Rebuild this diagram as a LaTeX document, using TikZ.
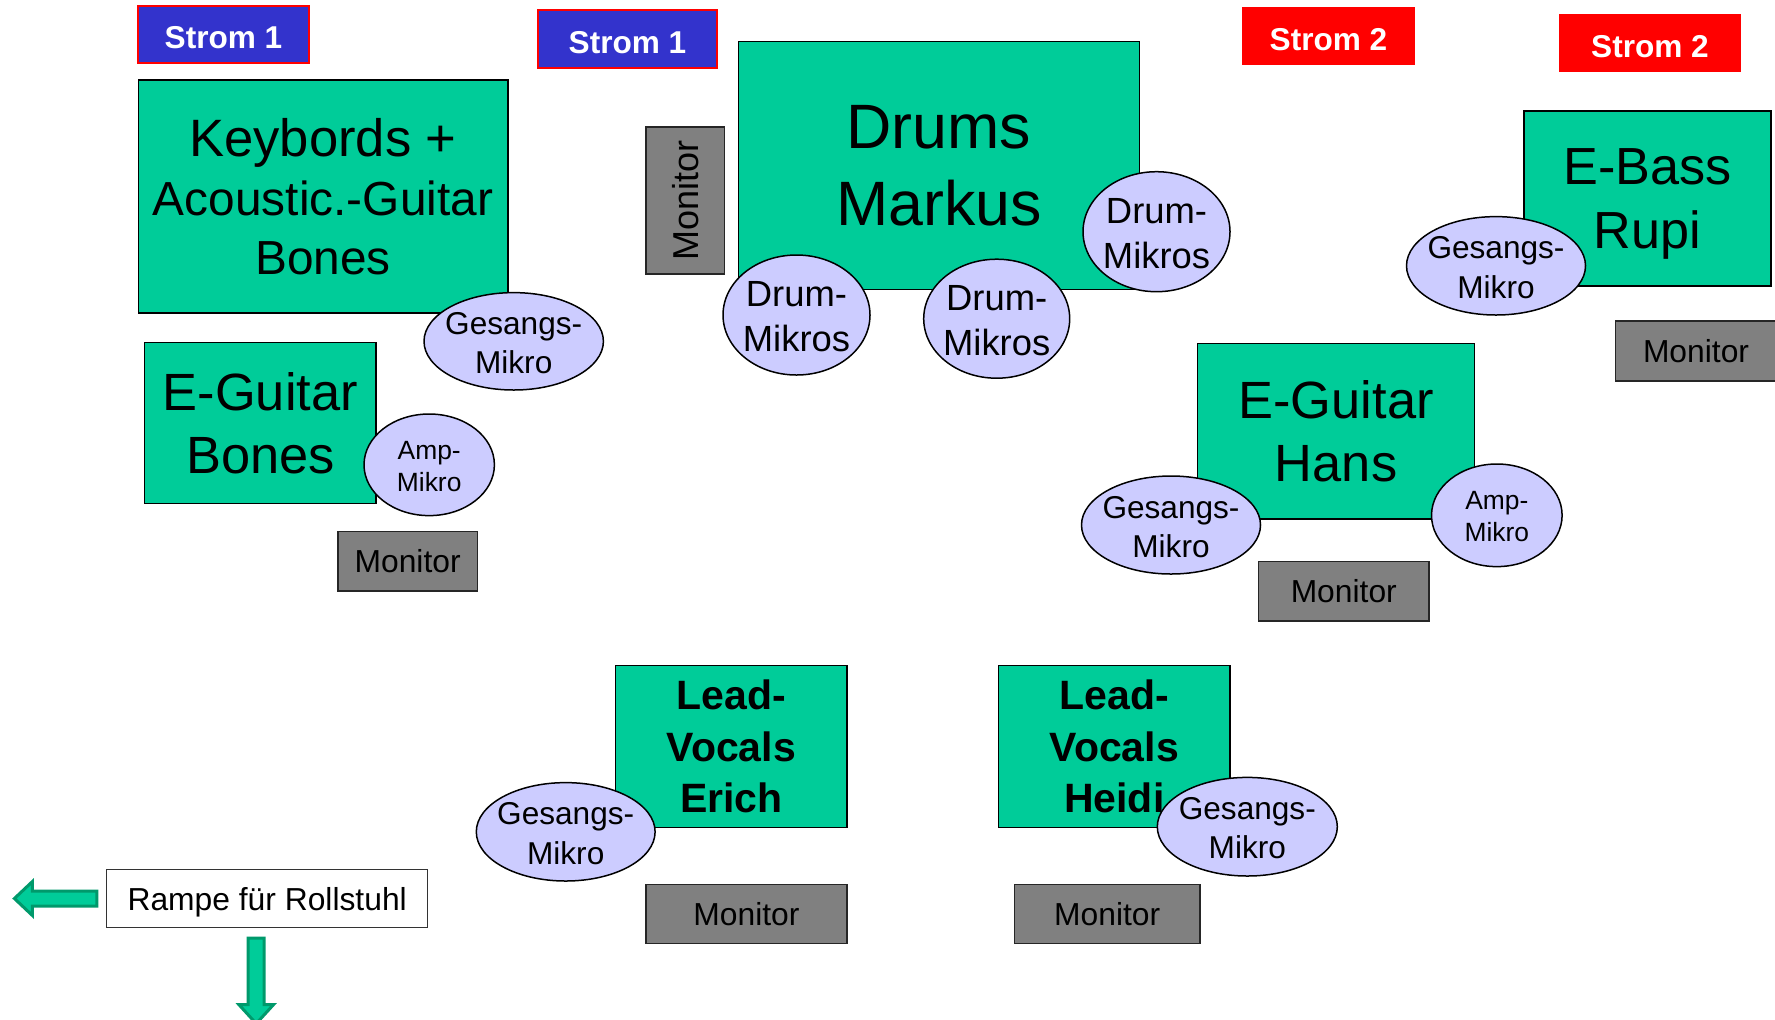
\documentclass[tikz,border=0pt]{standalone}
\usepackage{fontspec}
\setmainfont{Liberation Sans}
\usetikzlibrary{shapes}
\definecolor{buehne}{HTML}{00CC99}
\definecolor{mikrofarbe}{HTML}{CCCCFF}
\definecolor{grau}{HTML}{808080}
\definecolor{blau}{HTML}{3333CC}
\definecolor{pfeilrand}{HTML}{00996B}
\newcommand{\zweizeilig}[2]{\makebox[0pt]{\raisebox{-0.38em}[0pt][0pt]{\begin{tabular}{@{}c@{}}#1\\#2\end{tabular}}}}

\begin{document}
\begin{tikzpicture}[x=0.5pt,y=-0.5pt]
        \tikzstyle{band}=[rectangle,draw=black,line width=0.75pt,fill=buehne,inner sep=0pt,align=center]
        \tikzstyle{mikro}=[ellipse,draw=black,line width=0.75pt,fill=mikrofarbe,inner sep=0pt,font=\fontsize{15.8}{19.6}\selectfont]
        \tikzstyle{monbox}=[rectangle,draw=black!85,line width=0.75pt,fill=grau,inner sep=0pt,font=\fontsize{15.9}{19}\selectfont]
        \tikzstyle{strom}=[rectangle,inner sep=0pt,text=white,text height=14pt,text depth=0pt,font=\fontsize{15.8}{19}\selectfont\bfseries]
        \tikzstyle{stromeins}=[strom,fill=blau,draw=red,line width=1.2pt]
        \tikzstyle{stromzwei}=[strom,fill=red]
        \tikzstyle{pfeil}=[fill=buehne,draw=pfeilrand,line width=1.5pt,line join=miter]
        \useasboundingbox (0,0) rectangle (1775,1019);
        % Strom
        \node[stromeins,minimum width=85.5pt,minimum height=28.5pt] (strom1a) at (223.5,34.5) {Strom 1};
        \node[stromeins,minimum width=89.5pt,minimum height=29pt] (strom1b) at (627.5,39) {Strom 1};
        \node[stromzwei,minimum width=86.5pt,minimum height=29pt] (strom2a) at (1328.5,36) {Strom 2};
        \node[stromzwei,minimum width=91pt,minimum height=29pt] (strom2b) at (1650,43) {Strom 2};
        % Musiker
        \node[band,minimum width=184.75pt,minimum height=116.5pt,font=\fontsize{23.9}{29.5}\selectfont] (keys) at (323,196.5) {{\fontsize{26.3}{29.5}\selectfont Keybords +}\\Acoustic.-Guitar\\Bones};
        \node[band,minimum width=200.5pt,minimum height=124pt,font=\fontsize{31.35}{38.3}\selectfont] (drums) at (939,165.5) {Drums\\Markus};
        \node[band,minimum width=123.5pt,minimum height=87.5pt,font=\fontsize{26.1}{32.4}\selectfont,text depth=0pt] (bass) at (1647.5,198.5) {E-Bass\\Rupi};
        \node[band,minimum width=115.65pt,minimum height=80.3pt,font=\fontsize{26.2}{31.4}\selectfont] (gitbones) at (260.35,423) {E-Guitar\\Bones};
        \node[band,minimum width=138.4pt,minimum height=87.85pt,font=\fontsize{26.2}{31.6}\selectfont] (githans) at (1336.1,431.15) {E-Guitar\\Hans};
        \node[band,minimum width=115.7pt,minimum height=80.8pt,font=\fontsize{20.5}{25.85}\selectfont\bfseries] (erich) at (731.4,746.5) {Lead-\\Vocals\\Erich};
        \node[band,minimum width=115.7pt,minimum height=80.8pt,font=\fontsize{20.5}{25.85}\selectfont\bfseries] (heidi) at (1114.3,746.5) {Lead-\\Vocals\\Heidi};
        % Monitore
        \node[monbox,rotate=90,minimum width=73.5pt,minimum height=39.2pt,font=\fontsize{18}{21}\selectfont] (mondrums) at (685.2,200.5) {Monitor};
        \node[monbox,minimum width=69.65pt,minimum height=29.65pt] (monbones) at (407.65,561.35) {Monitor};
        \node[monbox,minimum width=80.5pt,minimum height=29.8pt] (monbass) at (1696,351) {Monitor};
        \node[monbox,minimum width=85.25pt,minimum height=29.65pt] (monhans) at (1343.75,591.35) {Monitor};
        \node[monbox,minimum width=100.5pt,minimum height=29.5pt] (monerich) at (746.5,913.8) {Monitor};
        \node[monbox,minimum width=92.8pt,minimum height=29.5pt] (monheidi) at (1107.2,913.8) {Monitor};
        % Mikros
        \node[mikro,minimum width=89.7pt,minimum height=48.7pt] (gesbones) at (513.7,341.3) {\zweizeilig{Gesangs-}{Mikro}};
        \node[mikro,minimum width=65.2pt,minimum height=50.8pt,font=\fontsize{13.2}{15.85}\selectfont] (ampbones) at (429.2,464.8) {\zweizeilig{Amp-}{Mikro}};
        \node[mikro,minimum width=73.5pt,minimum height=60pt,font=\fontsize{18.2}{22.5}\selectfont] (drumlinks) at (796.5,315) {\zweizeilig{Drum-}{Mikros}};
        \node[mikro,minimum width=73pt,minimum height=59.5pt,font=\fontsize{18.2}{22.5}\selectfont] (drummitte) at (996.7,318.7) {\zweizeilig{Drum-}{Mikros}};
        \node[mikro,minimum width=73.5pt,minimum height=60pt,font=\fontsize{18.2}{22.5}\selectfont] (drumrechts) at (1156.5,231.7) {\zweizeilig{Drum-}{Mikros}};
        \node[mikro,minimum width=89.5pt,minimum height=49.2pt] (gesbass) at (1496,265.8) {\zweizeilig{Gesangs-}{Mikro}};
        \node[mikro,minimum width=89.5pt,minimum height=49pt] (geshans) at (1171,525) {\zweizeilig{Gesangs-}{Mikro}};
        \node[mikro,minimum width=65.3pt,minimum height=51.3pt,font=\fontsize{13.2}{15.85}\selectfont] (amphans) at (1496.8,515.3) {\zweizeilig{Amp-}{Mikro}};
        \node[mikro,minimum width=89.4pt,minimum height=49.2pt] (geserich) at (565.7,831.8) {\zweizeilig{Gesangs-}{Mikro}};
        \node[mikro,minimum width=90pt,minimum height=49.3pt] (gesheidi) at (1247.3,826.7) {\zweizeilig{Gesangs-}{Mikro}};
        % Rampe
        \node[rectangle,draw=black!80,line width=0.6pt,fill=white,inner sep=0pt,minimum width=160.5pt,minimum height=29.2pt,text depth=0pt,font=\fontsize{15.9}{19}\selectfont] (rampe) at (267.2,898.5) {Rampe für Rollstuhl};
        \begin{scope}[shift={(rampe.west)}]
        \draw[pfeil] (-9.2,-7.5) -- (-73.7,-7.5) -- (-73.7,-17) -- (-91.7,0) -- (-73.7,17) -- (-73.7,7.5) -- (-9.2,7.5) -- cycle;
        \end{scope}
        \begin{scope}[shift={(rampe.south)}]
        \draw[pfeil] (-19,9.8) -- (-19,76.3) -- (-28.3,76.3) -- (-11,95.3) -- (6.3,76.3) -- (-3,76.3) -- (-3,9.8) -- cycle;
        \end{scope}
\end{tikzpicture}
\end{document}
